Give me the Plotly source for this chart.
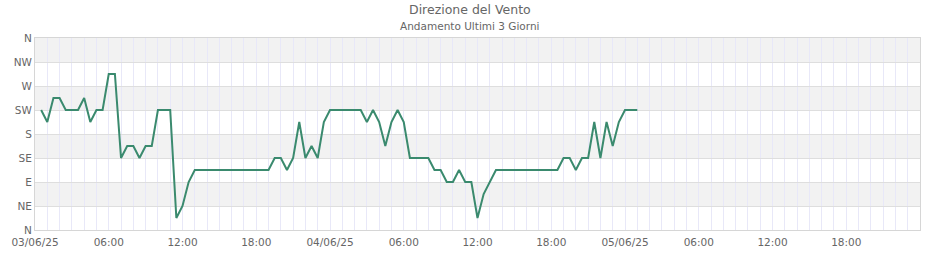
import pandas as pd
import plotly.graph_objects as go

# ---- data ----
start_time = "2025-06-03 00:30"
step = "30min"
direction_deg = [
    225, 202.5, 247.5, 247.5, 225, 225, 225, 247.5, 202.5, 225, 225, 292.5,
    292.5, 135, 157.5, 157.5, 135, 157.5, 157.5, 225, 225, 225, 22.5,
    45, 90,
    112.5, 112.5, 112.5, 112.5, 112.5, 112.5, 112.5, 112.5, 112.5, 112.5,
    112.5, 112.5, 112.5,
    135, 135, 112.5, 135, 202.5, 135, 157.5, 135, 202.5,
    225, 225, 225, 225, 225, 225,
    202.5, 225, 202.5, 157.5, 202.5, 225, 202.5,
    135, 135, 135, 135,
    112.5, 112.5, 90, 90, 112.5, 90, 90, 22.5, 67.5, 90,
    112.5, 112.5, 112.5, 112.5, 112.5, 112.5, 112.5, 112.5, 112.5, 112.5, 112.5,
    135, 135, 112.5, 135, 135, 202.5, 135, 202.5, 157.5, 202.5,
    225, 225, 225,
]
y_tick_values = [0, 45, 90, 135, 180, 225, 270, 315, 360]
y_tick_labels = ["N", "NE", "E", "SE", "S", "SW", "W", "NW", "N"]
x_tick_values = [
    "2025-06-03 00:00", "2025-06-03 06:00", "2025-06-03 12:00", "2025-06-03 18:00",
    "2025-06-04 00:00", "2025-06-04 06:00", "2025-06-04 12:00", "2025-06-04 18:00",
    "2025-06-05 00:00", "2025-06-05 06:00", "2025-06-05 12:00", "2025-06-05 18:00",
]
x_tick_labels = [
    "03/06/25", "06:00", "12:00", "18:00",
    "04/06/25", "06:00", "12:00", "18:00",
    "05/06/25", "06:00", "12:00", "18:00",
]
x_range = ["2025-06-03 00:00", "2025-06-06 00:00"]
title_text = "Direzione del Vento"
subtitle_text = "Andamento Ultimi 3 Giorni"

times = pd.date_range(start=start_time, periods=len(direction_deg), freq=step)

FONT = "DejaVu Sans"
TXT = "#666666"

fig = go.Figure()
fig.add_trace(go.Scatter(
    x=times, y=direction_deg, mode="lines",
    line=dict(color="#3a8a6e", width=2),
    hoverinfo="x+y", showlegend=False,
))

# alternating bands (gray between N-NW, W-SW, S-SE, E-NE)
shapes = []
for i in range(len(y_tick_values) - 1):
    if i % 2 == 1:
        shapes.append(dict(
            type="rect", xref="paper", yref="y", x0=0, x1=1,
            y0=y_tick_values[i], y1=y_tick_values[i + 1],
            fillcolor="#f2f2f2", line=dict(width=0), layer="below",
        ))

fig.update_layout(
    width=940, height=260,
    margin=dict(l=35, r=20, t=38, b=30),
    paper_bgcolor="white", plot_bgcolor="white",
    font=dict(family=FONT, color=TXT, size=10.5),
    shapes=shapes,
    annotations=[
        dict(text=title_text, xref="paper", yref="paper", x=0.4915, y=1.15,
             xanchor="center", yanchor="middle", showarrow=False,
             font=dict(family=FONT, size=12.5, color=TXT), yshift=0),
        dict(text=subtitle_text, xref="paper", yref="paper", x=0.4915, y=1.065,
             xanchor="center", yanchor="middle", showarrow=False,
             font=dict(family=FONT, size=10.5, color=TXT)),
    ],
)
fig.update_xaxes(
    type="date", range=x_range,
    tickmode="array", tickvals=x_tick_values, ticktext=x_tick_labels,
    showgrid=True, gridcolor="#e8e8f8", gridwidth=1,
    minor=dict(dtick=3600000, showgrid=True, gridcolor="#e8e8f8", gridwidth=1),
    showline=True, linecolor="#d6d6d6", linewidth=1, mirror=True,
    ticks="", ticklabelstandoff=2,
    tickfont=dict(family=FONT, size=10.5, color=TXT),
    layer="below traces", zeroline=False, fixedrange=True,
)
fig.update_yaxes(
    range=[0, 360], tickmode="array", tickvals=y_tick_values, ticktext=y_tick_labels,
    showgrid=True, gridcolor="#dedede", gridwidth=1,
    showline=True, linecolor="#d6d6d6", linewidth=1, mirror=True,
    ticks="", zeroline=False,
    tickfont=dict(family=FONT, size=10.5, color=TXT),
    layer="below traces", fixedrange=True,
)

fig.write_html("out.html")
